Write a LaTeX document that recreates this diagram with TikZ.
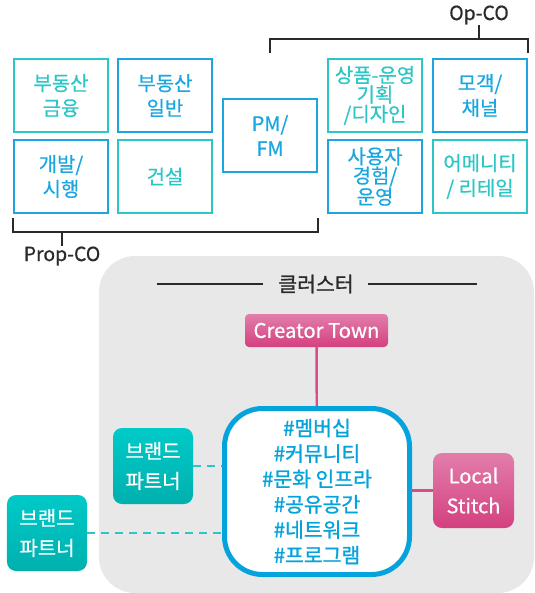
\documentclass[tikz,border=0pt]{standalone}
\usepackage{fontspec}
\setmainfont{Noto Sans CJK KR}
\newfontfamily\medfont[FakeBold=0.6]{Noto Sans CJK KR}
\newfontfamily\semifont[FakeBold=1.2]{Noto Sans CJK KR}
\definecolor{tealc}{HTML}{2CC6C6}
\definecolor{bluec}{HTML}{1BA6DF}
\definecolor{hubblue}{HTML}{05A3DB}
\definecolor{pinktop}{HTML}{E27EAB}
\definecolor{pinkbot}{HTML}{D4407F}
\definecolor{pinkline}{HTML}{D94B8B}
\definecolor{tealtop}{HTML}{00CAC8}
\definecolor{tealbot}{HTML}{00B0AE}
\definecolor{bggray}{HTML}{E8E8E8}
\definecolor{darkc}{HTML}{2A2A2A}
\begin{document}
\begin{tikzpicture}[x=1bp,y=-1bp,
  cbox/.style={draw=#1, text=#1, line width=2.4bp, minimum width=94bp, minimum height=73bp, align=center, inner sep=0pt,
     font=\medfont\fontsize{20}{25}\selectfont},
  tbox/.style={cbox=#1, font=\medfont\fontsize{20}{19.5}\selectfont},
  bracket/.style={draw=darkc, line width=1.4bp},
  lbl/.style={font=\medfont\fontsize{19.5}{22}\selectfont, text=darkc, inner sep=0pt},
  pinkbox/.style={top color=pinktop, bottom color=pinkbot, rounded corners=#1, text=white, align=center, inner sep=0pt},
  brandbox/.style={top color=tealtop, bottom color=tealbot, rounded corners=9bp, text=white, align=center, inner sep=0pt,
     minimum width=80bp, minimum height=76bp, font=\medfont\fontsize{20}{30}\selectfont},
  dashc/.style={draw=tealc, line width=2.4bp, dash pattern=on 8bp off 6bp},
  pinkc/.style={draw=pinkline, line width=2.4bp},
]
\useasboundingbox (0,0) rectangle (535,593);
% background cluster panel
\fill[bggray, rounded corners=36bp] (99,256) rectangle (534,593);

% top boxes
\node[cbox=tealc] (fin) at (61,95.5) {부동산\\금융};
\node[cbox=bluec] (gen) at (165,95.5) {부동산\\일반};
\node[cbox=bluec] (dev) at (61,176.5) {개발/\\시행};
\node[cbox=tealc] (con) at (165,176.5) {건설};
\node[cbox=bluec] (pm) at (270,135.5) {PM/\\FM};
\node[tbox=tealc] (plan) at (375,95.5) {상품-운영\\기획\\/디자인};
\node[cbox=bluec] (chan) at (480,95.5) {모객/\\채널};
\node[tbox=bluec] (ux) at (375,176.5) {사용자\\경험/\\운영};
\node[cbox=tealc] (amen) at (480,176.5) {어메니티\\/ 리테일};

% brackets
\coordinate (pl) at (13,218);
\coordinate (pr) at (318,218);
\coordinate (pt) at (62,232);
\draw[bracket] (pl) -- (13,232) -- (318,232) -- (pr);
\node[lbl] (prop) at (62,256) {Prop-CO};
\draw[bracket] (pt) -- (prop.north);
\coordinate (ol) at (270,53);
\coordinate (or) at (528,53);
\coordinate (ot) at (479,39);
\draw[bracket] (ol) -- (270,39) -- (528,39) -- (or);
\node[lbl] (op) at (479,15) {Op-CO};
\draw[bracket] (ot) -- (op.south);

% cluster title
\node[lbl, font=\semifont\fontsize{20.5}{22}\selectfont] (cl) at (316,284) {클러스터};
\coordinate (cla) at (157,284);
\coordinate (clb) at (477,284);
\draw[bracket] (cla) -- (263,284);
\draw[bracket] (368,284) -- (clb);

% cluster nodes
\node[pinkbox=4bp, minimum width=143bp, minimum height=33bp, font=\medfont\fontsize{20.3}{22}\selectfont] (ct) at (316.5,330.5) {Creator Town};
\node[draw=hubblue, line width=5bp, fill=white, rounded corners=38bp, minimum width=185bp, minimum height=166bp,
      text=hubblue, align=center, font=\semifont\fontsize{20.5}{25.5}\selectfont, inner sep=0pt] (hub) at (317,491.5)
      {\#멤버십\\\#커뮤니티\\\#문화 인프라\\\#공유공간\\\#네트워크\\\#프로그램};
\node[pinkbox=9bp, minimum width=81bp, minimum height=75bp, font=\medfont\fontsize{20}{30}\selectfont] (ls) at (473.5,490.5) {Local\\Stitch};
\node[brandbox] (b1) at (153,466) {브랜드\\파트너};
\node[brandbox] (b2) at (47,533) {브랜드\\파트너};

% connectors
\draw[pinkc] (ct) -- (hub);
\draw[pinkc] (ls.west) -- (ls.west -| hub.east);
\draw[dashc] (b1.east) -- (b1.east -| hub.west);
\draw[dashc] (b2.east) -- (b2.east -| hub.west);
\end{tikzpicture}
\end{document}
